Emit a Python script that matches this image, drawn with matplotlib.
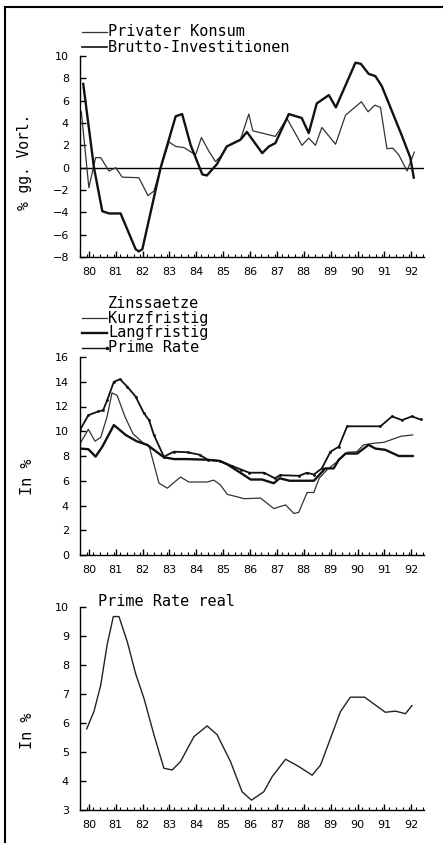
import matplotlib

matplotlib.use("Agg")
import matplotlib.pyplot as plt
from matplotlib.lines import Line2D

# Privater Konsum / Brutto-Investitionen, % gg. Vorjahr
KONSUM_T = [1980.05, 1980.33, 1980.58, 1980.77, 1981.08, 1981.33, 1981.57, 1982.19, 1982.53, 1982.75,
            1983.01, 1983.31, 1983.56, 1983.87, 1984.30, 1984.52, 1984.80, 1985.04, 1985.23, 1985.48,
            1985.97, 1986.28, 1986.43, 1987.27, 1987.70, 1988.26, 1988.51, 1988.76, 1989.00, 1989.51,
            1989.88, 1990.47, 1990.72, 1990.97, 1991.18, 1991.42, 1991.64, 1991.86, 1992.17, 1992.44]
KONSUM_V = [5.0, -1.8, 0.9, 0.9, -0.3, 0.0, -0.85, -0.9, -2.5, -2.1,
            0.0, 2.3, 1.9, 1.8, 1.15, 2.7, 1.45, 0.55, 1.0, 1.9,
            2.5, 4.8, 3.3, 2.8, 4.4, 2.0, 2.65, 2.0, 3.6, 2.1,
            4.7, 5.9, 5.0, 5.6, 5.4, 1.7, 1.75, 1.15, -0.3, 1.4]

INVEST_T = [1980.12, 1980.52, 1980.83, 1981.08, 1981.51, 1982.07, 1982.19, 1982.32, 1983.0, 1983.56,
            1983.80, 1984.12, 1984.55, 1984.72, 1985.09, 1985.46, 1985.97, 1986.21, 1986.78, 1987.03,
            1987.27, 1987.77, 1988.25, 1988.51, 1988.81, 1989.26, 1989.52, 1990.25, 1990.45, 1990.74,
            1990.99, 1991.23, 1991.60, 1991.97, 1992.29, 1992.42]
INVEST_V = [7.5, 0.0, -3.9, -4.1, -4.1, -7.3, -7.5, -7.3, 0.0, 4.6,
            4.8, 2.0, -0.6, -0.7, 0.3, 1.9, 2.5, 3.2, 1.3, 1.9,
            2.2, 4.8, 4.45, 3.1, 5.75, 6.5, 5.4, 9.4, 9.3, 8.4,
            8.2, 7.3, 5.1, 2.9, 0.9, -0.9]

# Zinssaetze, in %
KURZ_T = [1980.0, 1980.31, 1980.56, 1980.77, 1981.01, 1981.19, 1981.38, 1981.67, 1981.97, 1982.38,
          1982.57, 1982.94, 1983.25, 1983.74, 1984.05, 1984.73, 1984.98, 1985.23, 1985.48, 1985.85,
          1986.10, 1986.72, 1987.21, 1987.65, 1987.96, 1988.14, 1988.45, 1988.70, 1988.90, 1989.20,
          1989.60, 1989.95, 1990.30, 1990.55, 1991.00, 1991.30, 1991.95, 1992.38]
KURZ_V = [9.0, 10.15, 9.2, 9.5, 11.2, 13.1, 12.9, 11.2, 9.8, 9.0,
          8.8, 5.8, 5.4, 6.3, 5.9, 5.9, 6.05, 5.65, 4.9, 4.7,
          4.55, 4.6, 3.75, 4.05, 3.35, 3.45, 5.05, 5.05, 6.2, 6.9,
          7.6, 8.3, 8.35, 8.9, 9.05, 9.1, 9.6, 9.7]

LANG_T = [1980.0, 1980.31, 1980.58, 1980.83, 1981.26, 1981.7, 1982.1, 1982.5, 1983.12, 1983.5,
          1984.0, 1984.7, 1985.2, 1985.5, 1986.0, 1986.35, 1986.77, 1987.21, 1987.43, 1987.8,
          1988.7, 1989.13, 1989.44, 1989.63, 1989.88, 1990.31, 1990.74, 1990.99, 1991.36, 1991.86,
          1992.38]
LANG_V = [8.6, 8.55, 7.95, 8.75, 10.5, 9.7, 9.2, 8.9, 7.9, 7.75,
          7.75, 7.7, 7.6, 7.3, 6.6, 6.1, 6.1, 5.8, 6.2, 6.0,
          6.0, 7.0, 7.0, 7.7, 8.2, 8.2, 8.9, 8.6, 8.5, 8.0,
          8.0]

PRIME_T = [1980.0, 1980.31, 1980.68, 1980.86, 1981.01, 1981.26, 1981.49, 1981.76, 1982.07, 1982.38,
           1982.57, 1982.75, 1983.12, 1983.5, 1984.0, 1984.45, 1984.75, 1985.2, 1985.65, 1986.0,
           1986.3, 1986.85, 1987.25, 1987.45, 1988.15, 1988.45, 1988.7, 1989.0, 1989.32, 1989.63,
           1989.94, 1991.18, 1991.61, 1991.98, 1992.35, 1992.67]
PRIME_V = [10.1, 11.3, 11.6, 11.7, 12.5, 14.0, 14.2, 13.6, 12.8, 11.45,
           10.9, 9.7, 7.95, 8.35, 8.3, 8.1, 7.7, 7.6, 7.2, 6.9,
           6.65, 6.65, 6.2, 6.45, 6.4, 6.65, 6.5, 7.0, 8.35, 8.75,
           10.4, 10.4, 11.2, 10.9, 11.2, 10.95]

# Prime Rate real, in %
REAL_T = [1980.25, 1980.52, 1980.77, 1981.01, 1981.24, 1981.45, 1981.76, 1982.07, 1982.38, 1982.75,
          1983.12, 1983.43, 1983.74, 1984.24, 1984.73, 1985.10, 1985.60, 1986.03, 1986.38, 1986.84,
          1987.15, 1987.65, 1988.14, 1988.64, 1988.95, 1989.32, 1989.69, 1990.06, 1990.59, 1990.99,
          1991.36, 1991.74, 1992.11, 1992.35]
REAL_V = [5.8, 6.4, 7.3, 8.7, 9.67, 9.67, 8.8, 7.7, 6.85, 5.6,
          4.44, 4.38, 4.67, 5.53, 5.9, 5.6, 4.67, 3.63, 3.34, 3.63,
          4.15, 4.75, 4.5, 4.2, 4.55, 5.47, 6.39, 6.89, 6.89, 6.62,
          6.37, 6.41, 6.32, 6.6]

YEARS = list(range(1980, 1993))
YEAR_LABELS = [str(y - 1900) for y in YEARS]

W, H = 443, 843
MONO = "DejaVu Sans Mono"


def fx(x):
    return x / W


def fy(y):
    return 1 - y / H


def make_axes(fig, top, bottom, ylim, yticks):
    ax = fig.add_axes([fx(80), fy(bottom), fx(344), (bottom - top) / H])
    ax.set_xlim(1980, 1992.8)
    ax.set_ylim(*ylim)
    for side in ("top", "right"):
        ax.spines[side].set_visible(False)
    for side in ("left", "bottom"):
        ax.spines[side].set_linewidth(1.0)
    ax.set_yticks(yticks)
    ax.set_xticks([y + 0.33 for y in YEARS])
    ax.set_xticklabels(YEAR_LABELS)
    ax.set_xticks([1980 + 0.25 * k for k in range(52)], minor=True)
    ax.tick_params(axis="y", direction="in", length=4, width=1.0, pad=8, labelsize=8)
    ax.tick_params(axis="x", which="major", direction="in", length=4, width=1.0, pad=7, labelsize=8)
    ax.tick_params(axis="x", which="minor", direction="in", length=2, width=0.8)
    return ax


def legend_line(fig, y, **kw):
    fig.add_artist(Line2D([fx(82), fx(107)], [fy(y), fy(y)], transform=fig.transFigure, **kw))


def main():
    fig = plt.figure(figsize=(W / 100, H / 100), dpi=100)

    # scan frame
    fig.add_artist(Line2D([fx(5), fx(443)], [fy(7), fy(7)], transform=fig.transFigure, color="black", lw=1.5))
    fig.add_artist(Line2D([fx(5), fx(5)], [fy(7), fy(843)], transform=fig.transFigure, color="black", lw=1.5))

    # panel 1
    ax1 = make_axes(fig, 56, 257, (-8, 10), list(range(-8, 11, 2)))
    ax1.axhline(0, color="black", lw=1.0)
    ax1.plot(KONSUM_T, KONSUM_V, color="#333", lw=0.9)
    ax1.plot(INVEST_T, INVEST_V, color="#111", lw=1.7)
    fig.text(fx(25), fy(162), "% gg. Vorl.", rotation=90, ha="center", va="center", family=MONO, fontsize=10.5)
    legend_line(fig, 32, color="#333", lw=0.9)
    fig.text(fx(108), fy(32), "Privater Konsum", ha="left", va="center", family=MONO, fontsize=11)
    legend_line(fig, 47, color="#111", lw=1.2)
    fig.text(fx(108), fy(47), "Brutto-Investitionen", ha="left", va="center", family=MONO, fontsize=11)

    # panel 2
    ax2 = make_axes(fig, 357, 555, (0, 16), list(range(0, 17, 2)))
    ax2.plot(KURZ_T, KURZ_V, color="#333", lw=0.9)
    ax2.plot(LANG_T, LANG_V, color="#111", lw=1.7)
    ax2.plot(PRIME_T, PRIME_V, color="#111", lw=1.3, marker=".", markersize=2)
    fig.text(fx(28), fy(477), "In %", rotation=90, ha="center", va="center", family=MONO, fontsize=11)
    fig.text(fx(108), fy(303), "Zinssaetze", ha="left", va="center", family=MONO, fontsize=11)
    legend_line(fig, 318, color="#333", lw=0.9)
    fig.text(fx(108), fy(318), "Kurzfristig", ha="left", va="center", family=MONO, fontsize=11)
    legend_line(fig, 333, color="#111", lw=1.7)
    fig.text(fx(108), fy(333), "Langfristig", ha="left", va="center", family=MONO, fontsize=11)
    legend_line(fig, 348, color="#111", lw=1.0, marker=".", markersize=3, markevery=[1])
    fig.text(fx(108), fy(348), "Prime Rate", ha="left", va="center", family=MONO, fontsize=11)

    # panel 3
    ax3 = make_axes(fig, 607, 810, (3, 10), list(range(3, 11)))
    ax3.plot(REAL_T, REAL_V, color="#222", lw=1.0)
    fig.text(fx(28), fy(731), "In %", rotation=90, ha="center", va="center", family=MONO, fontsize=11)
    fig.text(fx(98), fy(602), "Prime Rate real", ha="left", va="center", family=MONO, fontsize=11)

    fig.savefig("out.png", dpi=100, facecolor="white")
    plt.close(fig)


if __name__ == "__main__":
    main()
